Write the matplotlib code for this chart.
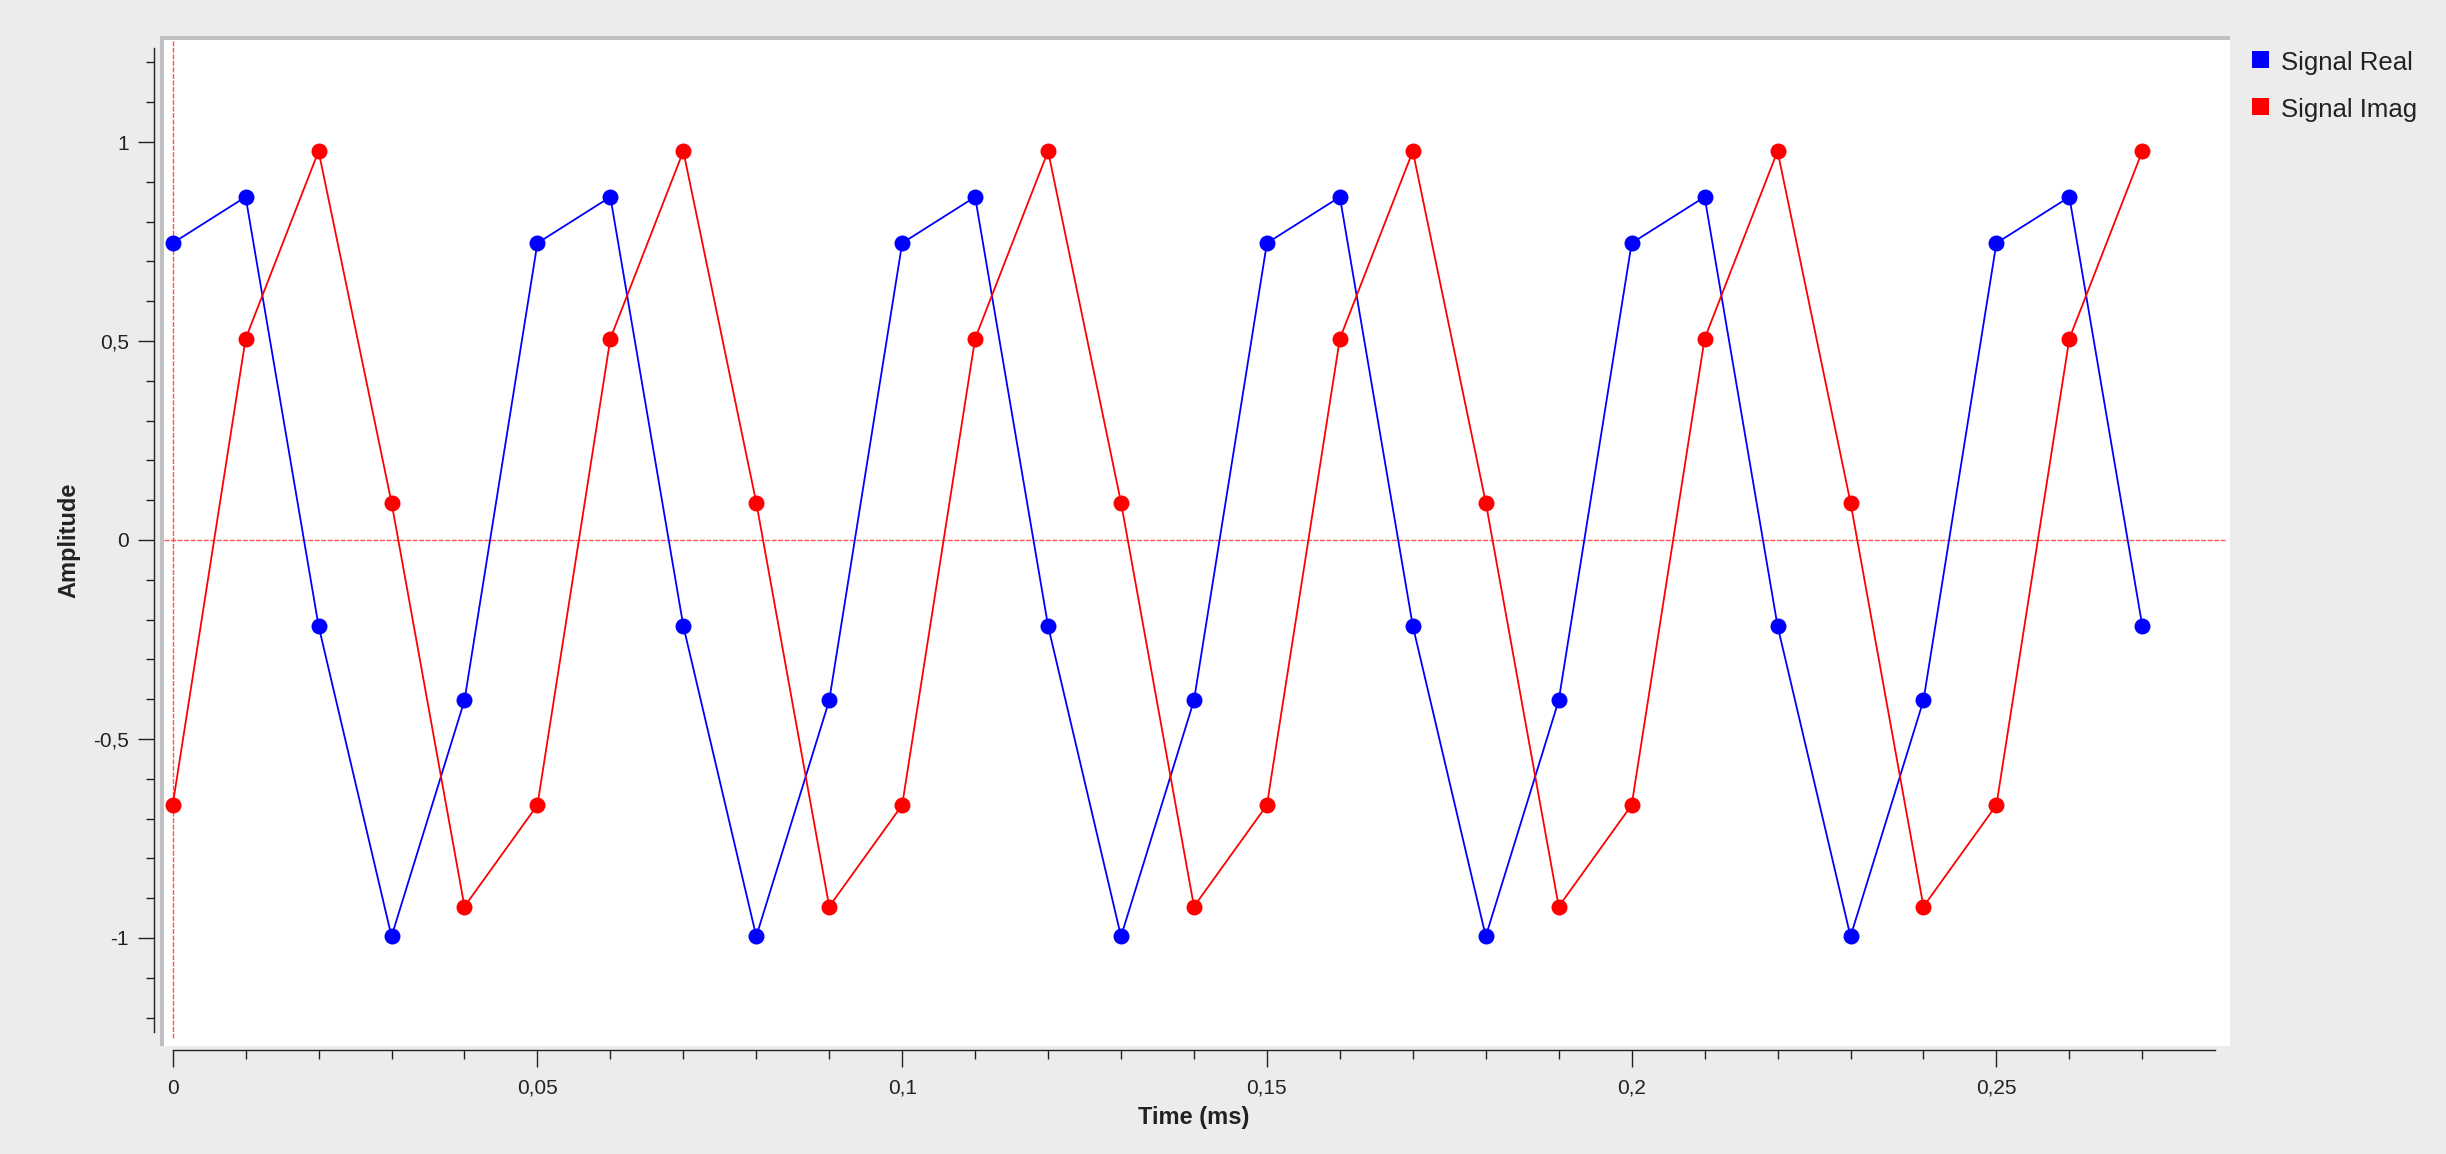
import matplotlib
matplotlib.use('Agg')
import matplotlib.pyplot as plt
from matplotlib.patches import Rectangle
from matplotlib.ticker import FixedLocator, FuncFormatter

# values
time_ms = [0.00, 0.01, 0.02, 0.03, 0.04, 0.05, 0.06, 0.07, 0.08, 0.09,
           0.10, 0.11, 0.12, 0.13, 0.14, 0.15, 0.16, 0.17, 0.18, 0.19,
           0.20, 0.21, 0.22, 0.23, 0.24, 0.25, 0.26, 0.27]
signal_real = [0.746, 0.862, -0.216, -0.996, -0.403,
               0.746, 0.862, -0.216, -0.996, -0.403,
               0.746, 0.862, -0.216, -0.996, -0.403,
               0.746, 0.862, -0.216, -0.996, -0.403,
               0.746, 0.862, -0.216, -0.996, -0.403,
               0.746, 0.862, -0.216]
signal_imag = [-0.666, 0.506, 0.977, 0.094, -0.921,
               -0.666, 0.506, 0.977, 0.094, -0.921,
               -0.666, 0.506, 0.977, 0.094, -0.921,
               -0.666, 0.506, 0.977, 0.094, -0.921,
               -0.666, 0.506, 0.977, 0.094, -0.921,
               -0.666, 0.506, 0.977]
series_names = ['Signal Real', 'Signal Imag']
series_colors = ['#0000ff', '#ff0000']

x_major = [0, 0.05, 0.1, 0.15, 0.2, 0.25]
x_minor = [0.01, 0.02, 0.03, 0.04, 0.06, 0.07, 0.08, 0.09, 0.11, 0.12, 0.13, 0.14,
           0.16, 0.17, 0.18, 0.19, 0.21, 0.22, 0.23, 0.24, 0.26, 0.27]
y_major = [-1, -0.5, 0, 0.5, 1]
y_minor = [-1.2, -1.1, -0.9, -0.8, -0.7, -0.6, -0.4, -0.3, -0.2, -0.1,
           0.1, 0.2, 0.3, 0.4, 0.6, 0.7, 0.8, 0.9, 1.1, 1.2]

plt.rcParams['font.family'] = ['Liberation Sans', 'DejaVu Sans']
plt.rcParams['axes.unicode_minus'] = False

W, H = 2446, 1154
fig = plt.figure(figsize=(W / 100, H / 100), dpi=100, facecolor='#ececec')

# plot panel (pixel box 164..2230 x 40..1046)
ax = fig.add_axes([164 / W, 1 - 1046 / H, (2230 - 164) / W, (1046 - 40) / H])
ax.set_facecolor('white')
fig.add_artist(Rectangle((160 / W, 1 - 1046 / H), (2230 - 160) / W, (1046 - 36) / H,
                         transform=fig.transFigure, facecolor='#c0c0c0',
                         edgecolor='none', zorder=-1))

ax.set_xlim(-0.00119, 0.28202)
ax.set_ylim(-1.2714, 1.2563)

# zero markers
ax.axhline(0, color='#ff5555', lw=1.0, ls=(0, (3.6, 1.1)), xmax=0.9975, zorder=1)
ax.axvline(0, color='#ff5555', lw=1.0, ls=(0, (3.6, 1.1)), ymin=0.008, zorder=1)

for vals, name, col in zip([signal_real, signal_imag], series_names, series_colors):
    ax.plot(time_ms, vals, color=col, lw=1.3, marker='o', markersize=11.5,
            markeredgewidth=0, label=name, zorder=3)

for s in ['top', 'right']:
    ax.spines[s].set_visible(False)
ax.spines['left'].set_position(('outward', 7.2))
ax.spines['left'].set_bounds(-1.236, 1.236)
ax.spines['bottom'].set_position(('outward', 2.9))
ax.spines['bottom'].set_bounds(0, 0.28)
for s in ['left', 'bottom']:
    ax.spines[s].set_color('#222222')
    ax.spines[s].set_linewidth(1.0)

def comma_fmt(v, pos):
    s = '%g' % round(v, 4)
    if s == '-0':
        s = '0'
    return s.replace('.', ',')

ax.xaxis.set_major_locator(FixedLocator(x_major))
ax.xaxis.set_minor_locator(FixedLocator(x_minor))
ax.yaxis.set_major_locator(FixedLocator(y_major))
ax.yaxis.set_minor_locator(FixedLocator(y_minor))
ax.xaxis.set_major_formatter(FuncFormatter(comma_fmt))
ax.yaxis.set_major_formatter(FuncFormatter(comma_fmt))

ax.tick_params(axis='x', which='major', length=12.2, width=1.0, pad=8.5,
               labelsize=15, colors='#222222')
ax.tick_params(axis='x', which='minor', length=6.5, width=1.0, colors='#222222')
ax.tick_params(axis='y', which='major', length=11.5, width=1.0, pad=6.5,
               labelsize=15, colors='#222222')
ax.tick_params(axis='y', which='minor', length=5.8, width=1.0, colors='#222222')

ax.set_xlabel('Time (ms)', fontsize=17, fontweight='bold', color='#222222')
ax.set_ylabel('Amplitude', fontsize=17, fontweight='bold', color='#222222')
ax.xaxis.set_label_coords((1194 - 164) / 2066, (1046 - 1106) / 1006)
ax.yaxis.set_label_coords((80 - 164) / 2066, (1046 - 540) / 1006)

# legend to the right of the panel
for i, (name, col) in enumerate(zip(series_names, series_colors)):
    top = 51 + i * 47
    fig.add_artist(Rectangle((2252 / W, 1 - (top + 17) / H), 17 / W, 17 / H,
                             transform=fig.transFigure, facecolor=col, edgecolor='none'))
    fig.text(2281 / W, 1 - (top + 19) / H, name, fontsize=18.5, color='#222222',
             va='baseline', ha='left')

fig.savefig('out.png', dpi=100, facecolor=fig.get_facecolor())
